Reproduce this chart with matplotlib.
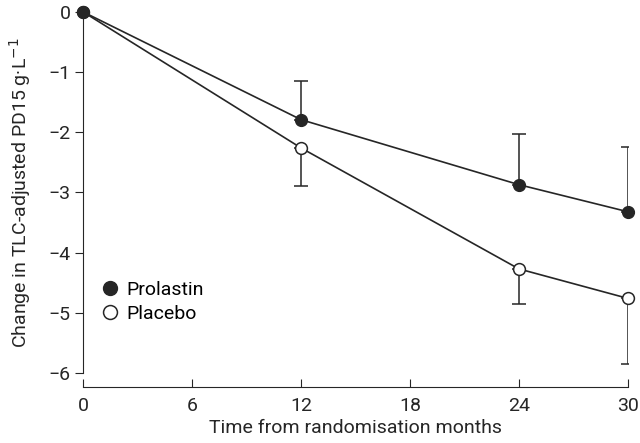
import numpy as np
import matplotlib.pyplot as plt
from matplotlib.lines import Line2D

months = np.array([0, 12, 24, 30])

prolastin = np.array([0, -1.79, -2.87, -3.32])
prolastin_err = np.array([0, 0.65, 0.84, 1.07])   # upper bars only

placebo = np.array([0, -2.26, -4.27, -4.76])
placebo_err = np.array([0, 0.63, 0.59, 1.09])     # lower bars only

plt.rcParams['font.family'] = ['Roboto', 'DejaVu Sans']
fs = 14

fig = plt.figure(figsize=(6.4, 4.43), dpi=100)
ax = fig.add_axes([0.13, 0.158, 0.851, 0.815])

c = '#262626'
ax.errorbar(months[1:], prolastin[1:], yerr=[np.zeros(3), prolastin_err[1:]],
            fmt='none', ecolor=c, elinewidth=1.1, capsize=5, capthick=1.1, zorder=2)
ax.errorbar(months[1:], placebo[1:], yerr=[placebo_err[1:], np.zeros(3)],
            fmt='none', ecolor=c, elinewidth=1.1, capsize=5, capthick=1.1, zorder=2)

ax.plot(months, placebo, '-o', color=c, lw=1.2, ms=8.5, mfc='white', mec=c, mew=1.1,
        zorder=3, clip_on=False)
ax.plot(months, prolastin, '-o', color=c, lw=1.2, ms=8.5, mfc=c, mec=c,
        zorder=4, clip_on=False)

ax.set_xlim(0, 30)
ax.set_ylim(-6, 0)
ax.set_xticks([0, 6, 12, 18, 24, 30])
ax.set_yticks(np.arange(-6, 1, 1))
ax.set_yticklabels([str(v).replace('-', '\u2212') if v else '0' for v in range(-6, 1)])

for s in ['top', 'right']:
    ax.spines[s].set_visible(False)
ax.spines['bottom'].set_position(('outward', 10))
ax.spines['left'].set_color(c)
ax.spines['bottom'].set_color(c)
ax.tick_params(axis='y', direction='out', length=6, color=c, labelsize=fs, labelcolor=c, pad=3)
ax.tick_params(axis='x', direction='in', length=6, color=c, labelsize=fs, labelcolor=c, pad=7)

ax.set_xlabel('Time from randomisation months', fontsize=fs, color=c, labelpad=3)
ax.set_ylabel('Change in TLC-adjusted PD15 g\u00b7L$^{-1}$', fontsize=fs, color=c, labelpad=11)

handles = [Line2D([], [], ls='none', marker='o', ms=10, mfc=c, mec=c),
           Line2D([], [], ls='none', marker='o', ms=10, mfc='white', mec=c, mew=1.1)]
ax.legend(handles, ['Prolastin', 'Placebo'], loc='lower left', bbox_to_anchor=(0.0, 0.09),
          frameon=False, fontsize=fs, handlelength=1.0, handletextpad=0.3, labelspacing=0.3)

fig.savefig('out.png', dpi=100)
